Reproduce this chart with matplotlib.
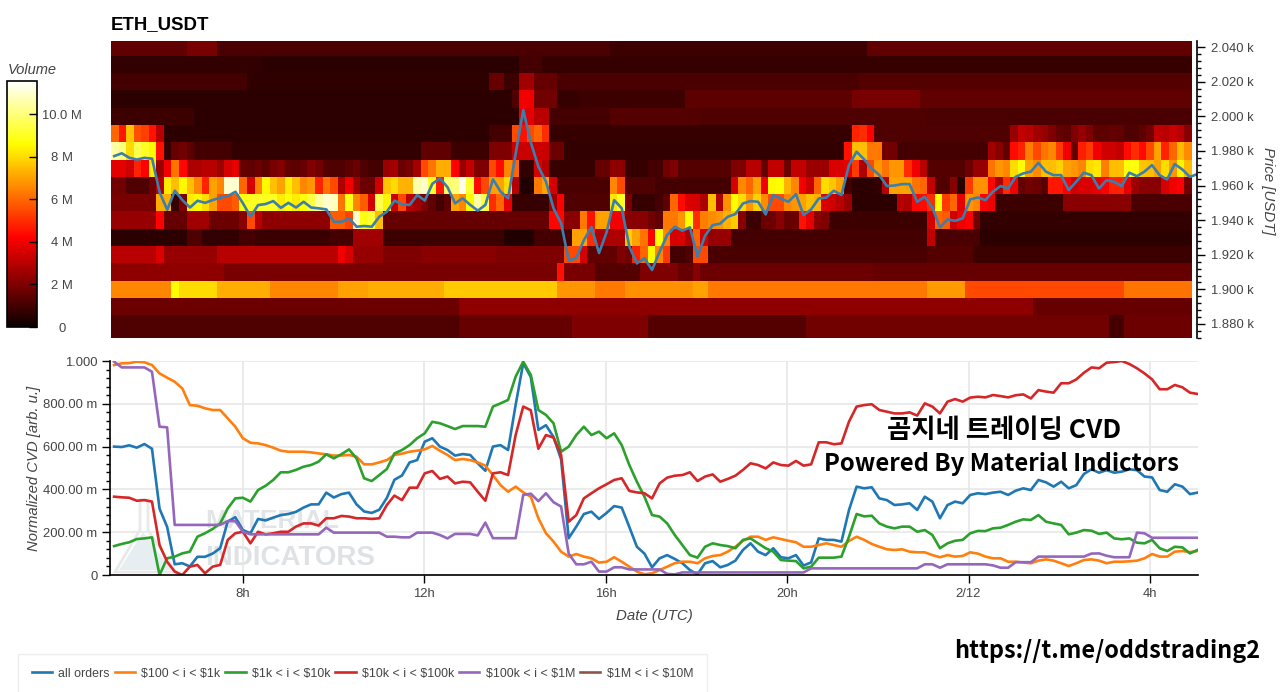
import numpy as np
import matplotlib
matplotlib.use('Agg')
import matplotlib.pyplot as plt
from matplotlib.patches import Polygon
from matplotlib.ticker import MultipleLocator

plt.rcParams['font.family'] = ['Liberation Sans', 'DejaVu Sans']
plt.rcParams['text.parse_math'] = False

W, H = 1280, 692
GREY = '#444444'

# heatmap: volume in millions per 10 min column, one list per price level
price_levels = [2040, 2030, 2020, 2010, 2000, 1990, 1980, 1970, 1960, 1950, 1940, 1930, 1920, 1910, 1900, 1890, 1880]

row_2040 = [1.5]*10 + [1.9]*4 + [1.1]*52 + [0.9]*34 + [1.5]*43
row_2030 = [0.7]*20 + [0.55]*34 + [1.0]*3 + [0.8]*86
row_2020 = [1.0]*18 + [0.65]*32 + [1.6]*2 + [0.9]*2 + [2.6]*2 + [1.6]*3 + [1.1]*40 + [1.3]*44
row_2010 = [0.6]*53 + [1.2] + [4.0]*2 + [1.8]*3 + [0.8]*3 + [0.9]*14 + [1.4]*22 + [1.9]*9 + [1.5]*36
row_2000 = [0.9]*11 + [0.6]*43 + [3.7, 3.7, 3.0, 3.0] + [1.0]*8 + [1.3]*12 + [1.2]*30 + [1.1]*35
row_1990 = ([6, 4.6, 7.6, 5.6, 5.3, 4.5, 3] + [0.6]*43 + [1.0]*3 + [5.5, 4.5, 5.5, 6, 5] + [0.8]*40
            + [4.8, 5, 4.2] + [1.2]*18 + [2.4, 3.2, 3, 2.6, 2.4, 2, 1.6, 1.4]
            + [2, 2.4, 2, 1.4, 1.4, 1.6, 1.5, 1.2, 1.2, 1.4, 1.8] + [3.2, 3, 3.3, 3, 2.2])
row_1980 = ([10.5, 10, 8, 9.5, 9, 8.5, 4.5, 0.8, 1.6, 1.8, 1.4] + [1.0]*5 + [0.7]*25 + [1.5]*4 + [0.9]*5
            + [2]*3 + [3.3]*5 + [1.7]*2 + [0.7]*37 + [4.5, 7.5, 7.5, 6.3, 6.3] + [1.8]*2 + [1.0]*12 + [2.6, 2.2, 1.5]
            + [4.4, 4.8, 6.4, 5.5, 6.2, 6.5, 5.2, 4, 1.6, 4.7, 5.2, 4, 3.4, 3.4, 3.2, 4.4, 5, 4.4, 5.5, 7, 4.8, 6, 7.4, 6.6])
row_1970 = ([3.7, 3.7, 3.4, 4.8, 4.2, 8.3, 2.5, 4, 6.2, 4.3, 2.8, 2.8, 3, 3, 2.5, 3.5, 3.8]
            + [1.6, 1.5, 1.7, 1.4, 1.9, 2.1, 1.5, 1.4, 1.6, 2.1, 1.8, 1.3, 1.2, 1.2, 1.4, 1.7, 1.2, 1.0, 1.0, 2.5, 2.7, 1.7, 1.9, 2.7]
            + [5.5, 6.2, 7.2, 7.2, 4.2, 2.5, 3.2, 2, 2, 5.5, 4.4, 6.5, 6, 0.7, 0.7, 3.5, 3]
            + [0.8]*6 + [1.6, 1.6, 2.3, 2.3] + [0.8]*3 + [1, 1]
            + [1.8, 2] + [1.3]*7 + [2, 2, 3, 3, 1.5, 3.2, 3.2, 1.7, 3.2, 3.2, 2.5, 2.5, 2.5, 3.6, 3.6, 3.8]
            + [5.2, 2.8, 5.5, 6.8, 6.2, 6.8, 6.8, 5, 4, 3] + [1.3]*5 + [1.7, 2.4, 2.4]
            + [6.2, 6.8, 6.5, 8, 8.6, 7, 6.6, 7.5, 7.5, 7.8, 7, 6.8, 6.5, 8, 8.2, 6.4, 7.5, 7.5, 8.7, 8.7, 7.6, 7.5, 7, 8, 6.8, 8.4, 7.4])
row_1960 = ([1.8, 1.8, 1.2, 1.2, 1.2, 1.8, 3, 8.3, 7.5, 8.5, 7.5, 6.5, 4.8, 7, 6.5, 11, 11, 6, 3.5, 6.5, 8.5, 7.5, 7, 8.3, 7.5, 6.5, 6.8, 4.8, 6.2, 5.5, 2.8, 4, 2.5, 1.7, 1.7, 3.4]
            + [7.6, 8, 7.3, 7.3, 10.6, 11, 9, 4.6, 9.8, 10, 11.3, 9.2, 4.4, 5.5, 7, 7, 8, 3, 0.4, 0.4, 6.3, 7, 3.5]
            + [1.1]*7 + [6.5, 5.5] + [1.2]*4 + [1.0]*10
            + [3.5, 6.5, 6, 7, 4, 8.5, 8.6, 7.3, 6.5, 4, 3.3, 6, 8, 7.6, 7] + [1, 0.6, 0.6, 0.6, 0.7, 3, 7, 7, 7, 6.2, 6]
            + [3.2, 1.3, 1.2, 2.2, 0.5, 5.2, 6.7, 6.7, 4.3, 2.8, 5, 4, 1.6, 1.8, 1.7, 1.3, 4.6, 4.6, 4.2, 3.4, 3.6, 3.6, 3.8, 4.2, 4.8, 4.8, 3.8, 2.5, 2.2, 2.2, 2.2, 3.5, 4, 4.2, 1.8])
row_1950 = ([1.9]*6 + [7.2, 7.2, 0.8, 2, 8.3, 8.5, 8, 7, 5.5, 5.5, 5.8, 8.7, 9, 9, 9, 9, 8.3, 8.7, 8.3, 8.7, 9.3, 10.5, 11, 10.8, 6.2, 8.8, 6.5, 5.8, 3.5, 9.5]
            + [8.4, 3.3, 5.5, 3, 2.6, 2, 1.5, 1, 1.4, 7, 6.5, 8.5, 10.5, 9.4, 5, 6, 3.8]
            + [0.8]*5 + [2.5, 4.2] + [1.2]*6 + [8.2, 9, 1.9] + [0.8]*3 + [1, 1.4]
            + [6, 4.4, 3.6, 3.5, 2.8, 7.5, 2.8, 6.7, 8.6, 8, 6.8, 7.8, 6.6, 5.5, 5.5, 6.5, 6.8, 7, 7.5, 7.3, 3.6, 3.4, 3, 2.5]
            + [0.6]*6 + [3, 2.8, 4.3, 4.4, 5, 8.6, 5.2, 6, 3.8, 6.8, 6.5, 4.2, 4] + [0.9]*9 + [2.2]*9 + [1.1]*8)
row_1940 = ([2.4]*6 + [4.2] + [1.6]*3 + [2.6]*3 + [1.7]*4 + [2.2, 5.5, 3] + [2.3]*9 + [5.8, 5.8, 5.4, 11, 8.8, 9.2, 7.5]
            + [1.6]*22 + [4.3, 4.3, 2.2, 2.2, 6.3, 4.5, 7, 7, 4, 4] + [2.2]*3 + [1.8, 1.5]
            + [6.3, 6.3, 6.8, 8.6, 5, 6.4, 6.6, 6.8, 7.3, 7.7, 2.2, 0.9, 0.9, 1.7, 1.7, 2.2, 1.6, 1.7, 4.5, 3.8, 2.2, 2]
            + [0.9]*13 + [3.5, 6, 5.8, 3.4, 4, 4.2, 1.8] + [0.7]*28)
row_1930 = ([0.55]*10 + [1.2]*2 + [0.7]*5 + [1.0]*2 + [0.85]*10 + [1]*3 + [2.6]*4 + [0.9]*16 + [0.4]*4 + [1.0]*5
            + [7, 7, 5] + [2.8]*4 + [7.8, 7, 6.2, 4.2, 8.6, 6.5, 3.5, 3.6, 2.8, 6, 3.4] + [2.4]*3 + [1.0]*26 + [3.2] + [1.1]*6 + [0.6]*28)
row_1920 = ([3]*6 + [3.6] + [2.4]*7 + [3]*16 + [4, 3.5] + [2.4]*4 + [2]*5 + [2.2]*10 + [2]*9 + [5.5, 5.5, 3.5] + [1.5]*4
            + [2, 1.8, 4.8, 6, 8.5, 6.5, 5.2, 1, 1, 1.2, 5.5, 5.5] + [1.1]*29 + [1.3]*6 + [0.9]*29)
row_1910 = [2.3]*15 + [1.9]*44 + [4.5] + [1.9]*4 + [1.3]*6 + [2]*5 + [1.6]*2 + [2.2] + [1.7]*23 + [1.6]*42
row_1900 = ([6.5]*8 + [8.6] + [8]*5 + [7.2]*7 + [6.5]*9 + [7]*4 + [7.2]*10 + [7.7]*15 + [6.8]*5 + [6.3]*4 + [6.7]*9
            + [7]*2 + [6.3]*29 + [6.9]*5 + [5.5]*21 + [6.2]*9)
row_1890 = [1.7]*46 + [2.3]*76 + [1.6]*21
row_1880 = [1.2]*46 + [1.6]*15 + [2.0]*10 + [1.3]*21 + [1.8]*40 + [1.0]*2 + [1.7]*9

volume = [row_2040, row_2030, row_2020, row_2010, row_2000, row_1990, row_1980, row_1970, row_1960,
          row_1950, row_1940, row_1930, row_1920, row_1910, row_1900, row_1890, row_1880]

# price line, one value per 10 min
price = [1977, 1978.6, 1976, 1975, 1976, 1975.5, 1956, 1946, 1957, 1951.6,
         1947.3, 1951.2, 1950, 1951.6, 1953, 1953.9, 1956.4, 1949.7, 1942, 1948.7,
         1949.3, 1951, 1947.1, 1950, 1947.3, 1950.6, 1947.3, 1946.8, 1946.2, 1939,
         1939, 1941, 1936.2, 1936.6, 1936.2, 1942, 1944.9, 1951.3, 1949.1,
         1948.8, 1954.5, 1951.3, 1961, 1964.2, 1959, 1949.7, 1952.6, 1948.8, 1945.5, 1948.8,
         1963.6, 1956.5, 1952.6, 1978.6, 2003.6, 1984.8, 1970.9, 1962.2, 1946.8, 1938.2, 1916.6,
         1918, 1928.5, 1936, 1921, 1933, 1951.6, 1946.8, 1924.7, 1915, 1918,
         1911.2, 1921.7, 1931.4, 1936.2, 1933.9,
         1935.8, 1919, 1931, 1937.1, 1938, 1942, 1943.5, 1949.6, 1951, 1950.6,
         1943.3, 1954.5, 1952.5, 1950.6, 1955, 1942.9, 1946.2, 1952.5, 1953.1, 1957,
         1954.5, 1971.8, 1979.5, 1975.1, 1969.9, 1966, 1959.7, 1960, 1960.8, 1960.8,
         1950.6, 1953.5, 1947.3, 1935.8, 1940.4, 1939.6, 1941, 1952, 1953.1,
         1951.6, 1956.4, 1959.7, 1958.3, 1965, 1967, 1968, 1973.1, 1968, 1966,
         1966, 1957.4, 1962.2, 1967.4, 1966, 1958.3, 1963.1, 1962.2, 1959.7, 1967.4,
         1965.4, 1968, 1971.8, 1966, 1963.5, 1972.4, 1969.3, 1965, 1966.6]

# normalized CVD in milli units, one value per 10 min
cvd_all = [600, 598, 606, 595, 612, 590, 310, 225, 50, 55, 40,
           85, 85, 100, 125, 250, 270, 210, 195, 262, 255,
           268, 280, 285, 295, 315, 330, 330, 385, 362, 378,
           385, 330, 297, 290, 305, 360, 445, 465,
           526, 537, 623, 639, 600, 584, 558, 565, 561, 522, 487,
           600, 607, 584, 795, 990, 925, 678, 700, 645, 540, 172,
           226, 285, 296, 262, 290, 322, 315, 225, 132, 100,
           36, 78, 93, 75, 55,
           23, 3, 55, 65, 36, 47, 67, 117, 148, 109,
           93, 125, 83, 78, 93, 44, 59, 171, 164, 164,
           156, 304, 413, 405, 410, 358, 350, 327, 330, 335,
           304, 366, 343, 265, 327, 343, 335, 374, 382,
           378, 385, 389, 374, 394, 405, 397, 444, 433, 413,
           436, 405, 420, 472, 494, 478, 490, 478, 483, 494,
           490, 460, 456, 397, 389, 424, 413, 378, 385]
cvd_100_1k = [981, 989, 990, 997, 994, 981, 942, 922, 903, 872,
              794, 791, 779, 771, 771, 732, 693, 639, 618, 615,
              607, 595, 581, 576, 576, 576, 573, 568, 564, 558,
              558, 561, 553, 517, 517, 526, 537, 561, 567,
              576, 581, 587, 603, 581, 561, 537, 542, 537, 526, 511,
              467, 420, 389, 413, 386, 366, 265, 195, 156, 109, 86,
              98, 86, 78, 58, 62, 83, 62, 39, 16, 3,
              8, 23, 39, 55, 62,
              62, 55, 78, 89, 93, 109, 132, 159, 179, 179,
              164, 176, 168, 160, 153, 132, 132, 140, 148, 140,
              132, 159, 179, 164, 145, 132, 120, 117, 120, 109,
              106, 106, 93, 83, 93, 86, 89, 106, 100,
              86, 78, 78, 62, 62, 58, 55, 67, 73, 67,
              55, 42, 55, 70, 73, 67, 55, 62, 62, 64,
              67, 78, 98, 86, 86, 109, 112, 107, 112]
cvd_1k_10k = [135, 145, 153, 168, 171, 176, 0, 78, 86, 101,
              109, 179, 195, 215, 241, 311, 358, 361, 343, 397,
              417, 444, 480, 480, 491, 506, 514, 530, 564, 545,
              564, 587, 545, 452, 439, 467, 495, 568, 584,
              607, 639, 662, 716, 709, 696, 682, 696, 696, 696, 693,
              787, 802, 818, 927, 997, 935, 771, 748, 709, 576, 600,
              654, 693, 654, 670, 639, 662, 607, 514, 436, 366,
              280, 273, 241, 187, 140,
              93, 81, 132, 148, 140, 135, 125, 164, 171, 148,
              125, 109, 70, 67, 65, 31, 39, 81, 81, 81,
              86, 179, 285, 274, 277, 241, 226, 218, 226, 226,
              202, 210, 187, 125, 148, 160, 164, 195, 206,
              205, 218, 221, 234, 249, 260, 257, 280, 249, 241,
              234, 190, 198, 210, 207, 192, 198, 171, 167, 171,
              151, 148, 164, 125, 112, 132, 129, 101, 117]
cvd_10k_100k = [366, 363, 361, 347, 350, 343, 140, 62, 16, 0,
                39, 47, 8, 39, 47, 164, 195, 202, 148, 202,
                190, 195, 202, 202, 226, 241, 241, 231, 265, 265,
                276, 273, 265, 265, 262, 265, 327, 371, 350,
                408, 408, 475, 486, 449, 460, 428, 436, 433, 389, 347,
                475, 480, 467, 654, 787, 770, 590, 654, 642, 561, 249,
                280, 358, 382, 405, 424, 444, 452, 393, 386, 382,
                358, 428, 455, 464, 467,
                480, 439, 460, 470, 436, 449, 464, 491, 522, 514,
                498, 526, 514, 511, 533, 511, 517, 620, 620, 611,
                615, 717, 787, 794, 798, 771, 763, 755, 755, 760,
                745, 802, 787, 755, 810, 822, 810, 829, 833,
                830, 841, 836, 830, 840, 844, 825, 864, 857, 852,
                896, 896, 914, 945, 970, 966, 992, 995, 1000, 986,
                966, 942, 914, 868, 868, 888, 877, 852, 846]
cvd_100k_1m = [997, 970, 970, 970, 970, 950, 693, 690, 234, 234,
               234, 234, 234, 234, 234, 252, 252, 202, 190, 190,
               190, 190, 190, 190, 190, 190, 190, 190, 221, 198,
               198, 198, 198, 198, 198, 198, 179, 179, 176,
               176, 198, 198, 198, 187, 171, 192, 192, 192, 185, 245,
               172, 172, 172, 172, 374, 380, 345, 382, 340, 320, 100,
               50, 50, 62, 16, 16, 36, 36, 26, 26, 26,
               26, 26, 5, 3, 12,
               12, 12, 12, 12, 12, 12, 12, 12, 12, 12,
               12, 12, 12, 12, 12, 12, 31, 31, 31, 31,
               31, 31, 31, 31, 31, 31, 31, 31, 31, 31,
               31, 50, 50, 34, 50, 50, 50, 50, 50,
               50, 45, 34, 34, 60, 60, 60, 86, 86, 86,
               86, 86, 86, 86, 100, 101, 90, 83, 83, 83,
               198, 195, 174, 174, 174, 174, 174, 174, 174]

series_labels = ['all orders', '$100 < i < $1k', '$1k < i < $10k', '$10k < i < $100k', '$100k < i < $1M', '$1M < i < $10M']
series_colors = ['#1f77b4', '#ff7f0e', '#2ca02c', '#d62728', '#9467bd', '#8c564b']

time_ticks = [8, 12, 16, 20, 24, 28]
time_labels = ['8h', '12h', '16h', '20h', '2/12', '4h']
cvd_ticks = [0, 200, 400, 600, 800, 1000]
cvd_labels = ['0', '200.00 m', '400.00 m', '600.00 m', '800.00 m', '1.000']
volume_ticks = [0, 2, 4, 6, 8, 10]
volume_labels = ['0', '2 M', '4 M', '6 M', '8 M', '10.0 M']
price_ticks = [1880, 1900, 1920, 1940, 1960, 1980, 2000, 2020, 2040]
price_labels = ['1.880 k', '1.900 k', '1.920 k', '1.940 k', '1.960 k', '1.980 k', '2.000 k', '2.020 k', '2.040 k']


def px_axes(left, top, right, bottom):
    return fig.add_axes([left / W, 1 - bottom / H, (right - left) / W, (bottom - top) / H])


fig = plt.figure(figsize=(W / 100, H / 100), dpi=100)

# upper panel
ax_top = px_axes(111, 41, 1197, 338)
col_edges = 5.089 + np.arange(len(row_2040) + 1) / 6
row_edges = np.array(price_levels + [price_levels[-1] - 10]) + 5.0
row_edges[-1] = 1871.9  # last row runs down to the axis edge
mesh = ax_top.pcolormesh(col_edges, row_edges, np.array(volume), cmap='hot', vmin=0, vmax=11.55, rasterized=True)
price_hours = np.linspace(5.16, 29.05, len(price))
ax_top.plot(price_hours, price, color='#3a7fae', lw=1.9)
ax_top.set_xlim(5.089, 29.04)
ax_top.set_ylim(1871.9, 2043.5)
ax_top.set_xticks([])
for side in ['left', 'top', 'bottom']:
    ax_top.spines[side].set_visible(False)
ax_top.yaxis.tick_right()
ax_top.spines['right'].set_linewidth(1.2)
ax_top.set_yticks(price_ticks, price_labels)
ax_top.yaxis.set_minor_locator(MultipleLocator(4))
ax_top.tick_params(axis='y', which='major', length=6, width=1, labelsize=9.4, labelcolor=GREY, pad=4)
ax_top.tick_params(axis='y', which='minor', length=3, width=1)
ax_top.set_title('ETH_USDT', loc='left', fontsize=13.4, fontweight='bold', pad=8.5)
fig.text(1268 / W, 1 - 191 / H, 'Price [USDT]', rotation=270, style='italic', fontsize=10.8, color=GREY, ha='center', va='center')

# colorbar
cax = px_axes(7, 81, 37, 327)
cbar = fig.colorbar(mesh, cax=cax)
cbar.outline.set_edgecolor('black')
cbar.outline.set_linewidth(1.2)
cbar.set_ticks(volume_ticks, labels=volume_labels)
cax.tick_params(axis='y', direction='in', length=6, width=1, labelsize=9.4, labelcolor=GREY, pad=18)
for lab in cax.get_yticklabels():
    lab.set_ha('center')
fig.text(8 / W, 1 - 70 / H, 'Volume', style='italic', fontsize=10.5, color=GREY, ha='left', va='center')

# lower panel
ax = px_axes(110, 361, 1198, 575)
cvd_hours = np.linspace(5.16, 29.05, len(cvd_all))
ax.grid(True, color='#e8e8e8', lw=1.2)
ax.set_axisbelow(True)

# watermark
flask = [(140, 500), (148, 500), (148, 530), (176, 572), (115, 572), (140, 530)]
flask_fill = [(143, 532), (172, 570), (119, 570)]
ax.add_patch(Polygon([(x / W, 1 - y / H) for x, y in flask], transform=fig.transFigure, fill=False, ec='#e9e9e9', lw=2, zorder=1))
ax.add_patch(Polygon([(x / W, 1 - y / H) for x, y in flask_fill], transform=fig.transFigure, fc='#e6eef1', ec='none', zorder=1))
fig.text(205 / W, 1 - 521 / H, 'MATERIAL', fontsize=19, fontweight='bold', color='#e2e5e8', va='center', zorder=-1)
fig.text(205 / W, 1 - 558 / H, 'INDICATORS', fontsize=20, fontweight='bold', color='#dfe2e5', va='center', zorder=-1)

all_series = [cvd_all, cvd_100_1k, cvd_1k_10k, cvd_10k_100k, cvd_100k_1m]
for vals, label, color in zip(all_series, series_labels, series_colors):
    ax.plot(cvd_hours, vals, color=color, lw=1.9, label=label)
# this bucket has no visible trace in the chart, only a legend entry
ax.plot([], [], color=series_colors[5], lw=1.9, label=series_labels[5])

ax.set_xlim(5.07, 29.06)
ax.set_ylim(0, 1000)
ax.patch.set_alpha(0)
ax.set_xticks(time_ticks, time_labels)
ax.set_yticks(cvd_ticks, cvd_labels)
ax.yaxis.set_minor_locator(MultipleLocator(40))
for side in ['top', 'right']:
    ax.spines[side].set_visible(False)
for side in ['left', 'bottom']:
    ax.spines[side].set_linewidth(1.2)
ax.tick_params(axis='x', which='major', length=6, width=1, labelsize=9.4, labelcolor=GREY, pad=3.5)
ax.tick_params(axis='y', which='major', length=6, width=1, labelsize=9.4, labelcolor=GREY, pad=3)
ax.tick_params(axis='y', which='minor', length=3, width=1)
ax.set_xlabel('Date (UTC)', style='italic', fontsize=10.8, color=GREY, labelpad=6)
ax.set_ylabel('Normalized CVD [arb. u.]', style='italic', fontsize=10.7, color=GREY, labelpad=1.5)

fig.legend(loc='upper left', bbox_to_anchor=(18 / W, 1 - 654 / H), ncol=6, fontsize=8.9, labelcolor=GREY,
           handlelength=1.65, handletextpad=0.5, columnspacing=0.4, borderpad=1.1, borderaxespad=0,
           fancybox=False, edgecolor='#eeeeee', framealpha=1)

# overlay text
kr = ['Noto Sans CJK KR', 'DejaVu Sans']
fig.text(1004 / W, 1 - 431 / H, '곰지네 트레이딩 CVD', family=kr, fontsize=19, fontweight='bold', ha='center', va='center')
fig.text(1001 / W, 1 - 464 / H, 'Powered By Material Indictors', family=kr, fontsize=17.2, fontweight='bold', ha='center', va='center')
fig.text(1107.5 / W, 1 - 651 / H, 'https://t.me/oddstrading2', family=kr, fontsize=16.9, fontweight='bold', ha='center', va='center')

fig.savefig('out.png', dpi=100)
